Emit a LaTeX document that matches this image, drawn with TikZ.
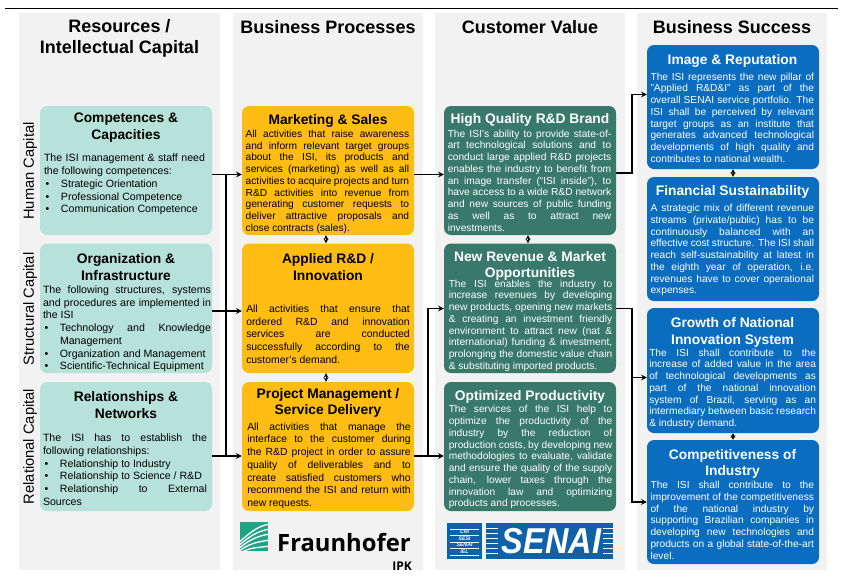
\documentclass[tikz,border=0pt]{standalone}
\usepackage{fontspec}
\setmainfont{Liberation Sans}
\newfontfamily\logofont{Open Sans}
\definecolor{colbg}{HTML}{F2F2F2}
\definecolor{tealc}{HTML}{B7E2D9}
\definecolor{yellowc}{HTML}{FFBC13}
\definecolor{greenc}{HTML}{39796A}
\definecolor{bluec}{HTML}{0B6DBF}
\definecolor{fhgreen}{HTML}{1FA585}
\definecolor{senaiblue}{HTML}{0F62A8}
\newcommand{\brk}{\linebreak}
\newcommand{\isiitem}{\par\noindent\hangindent=17pt\hangafter=1\hbox to 17pt{\hskip 1.5pt\textbullet\hfil}}
\tikzset{
  cardbox/.style={rounded corners=7pt,inner sep=0pt,minimum width=172pt},
  tealbox/.style={cardbox,fill=tealc},
  yellowbox/.style={cardbox,fill=yellowc},
  greenbox/.style={cardbox,fill=greenc},
  bluebox/.style={cardbox,fill=bluec},
  headtext/.style={align=center,inner sep=0pt,font=\fontsize{18}{21}\selectfont\bfseries},
  cardtitle/.style={align=center,inner sep=0pt,yshift=-1.5pt,font=\fontsize{13.8}{16.6}\selectfont\bfseries},
  sidetext/.style={rotate=90,inner sep=0pt,font=\fontsize{14.7}{17}\selectfont},
  bodytext/.style={anchor=north,inner sep=0pt,align=justify,text width=163.5pt,
    font=\fontsize{10.2}{11.75}\selectfont,execute at begin node=\noindent\strut},
  widetext/.style={bodytext,font=\fontsize{10.4}{12.75}\selectfont},
  tealtext/.style={bodytext,font=\fontsize{10.6}{12.75}\selectfont},
  conn/.style={->,line width=1.5pt},
  bus/.style={line width=1.5pt},
  dbl/.style={<->,line width=1pt},
}
\begin{document}
\begin{tikzpicture}[>=stealth,x=1pt,y=-1pt]
\useasboundingbox (0,0) rectangle (843,579);
\draw[line width=1.3pt] (5,8.5) -- (838,8.5);
% columns
\foreach \xa/\xb in {19/220,233/423,435/625,637/827}
  \fill[colbg] (\xa,13) rectangle (\xb,570);
\node[headtext] (hres) at (119.5,38) {Resources /\\Intellectual Capital};
\node[headtext] (hproc) at (328,27.5) {Business Processes};
\node[headtext] (hval) at (530,27.5) {Customer Value};
\node[headtext] (hsucc) at (732,27.5) {Business Success};
\node[sidetext] (shum) at (30,171) {Human Capital};
\node[sidetext] (sstr) at (30,309) {Structural Capital};
\node[sidetext] (srel) at (30,446.5) {Relational Capital};
% boxes
\node[tealbox,minimum height=129pt] (cmp) at (126,170.5) {};
\node[tealbox,minimum height=129.5pt] (org) at (126,308.25) {};
\node[tealbox,minimum height=129pt] (rel) at (126,446.5) {};
\node[yellowbox,minimum height=129pt] (mkt) at (328,170.5) {};
\node[yellowbox,minimum height=129.5pt] (rnd) at (328,308.25) {};
\node[yellowbox,minimum height=129pt] (pmg) at (328,446.5) {};
\node[greenbox,minimum height=129pt] (brd) at (530,170.5) {};
\node[greenbox,minimum height=129.5pt] (rev) at (530,308.25) {};
\node[greenbox,minimum height=129pt] (prd) at (530,446.5) {};
\node[bluebox,minimum height=124pt] (img) at (733,107) {};
\node[bluebox,minimum height=124pt] (fin) at (733,239) {};
\node[bluebox,minimum height=125pt] (gro) at (733,370.5) {};
\node[bluebox,minimum height=124pt] (com) at (733,502) {};
% resources
\node[cardtitle] (tcmp) at (126,126) {Competences \&\\Capacities};
\node[tealtext,text width=161pt] (bcmp) at (124.5,152.7) {The ISI management \& staff need\brk the following competences:
  \isiitem Strategic Orientation
  \isiitem Professional Competence
  \isiitem Communication Competence};
\node[cardtitle] (torg) at (126,265.5) {Organization \&\\Infrastructure};
\node[tealtext,text width=168pt] (borg) at (127,284.2) {The following structures, systems\brk and procedures are implemented in\brk the ISI
  \isiitem Technology and Knowledge\brk Management
  \isiitem Organization and Management
  \isiitem Scientific-Technical Equipment};
\node[cardtitle] (trel) at (126,403.5) {Relationships \&\\Networks};
\node[tealtext,text width=164pt] (brel) at (125,432.5) {The ISI has to establish the\brk following relationships:
  \isiitem Relationship to Industry
  \isiitem Relationship to Science / R\&D
  \isiitem Relationship to External\brk Sources};
% processes
\node[cardtitle] (tmkt) at (328,119) {Marketing \& Sales};
\node[bodytext] (bmkt) at (327.4,129) {All activities that raise awareness\brk and inform relevant target groups\brk about the ISI, its products and\brk services (marketing) as well as all\brk activities to acquire projects and turn\brk R\&D activities into revenue from\brk generating customer requests to\brk deliver attractive proposals and\brk close contracts (sales).};
\node[cardtitle] (trnd) at (328,265.5) {Applied R\&D /\\Innovation};
\node[widetext] (brnd) at (328,303.2) {All activities that ensure that\brk ordered R\&D and innovation\brk services are conducted\brk successfully according to the\brk customer's demand.};
\node[cardtitle] (tpmg) at (328,401.5) {Project Management /\\Service Delivery};
\node[widetext] (bpmg) at (329,420.9) {All activities that manage the\brk interface to the customer during\brk the R\&D project in order to assure\brk quality of deliverables and to\brk create satisfied customers who\brk recommend the ISI and return with\brk new requests.};
% value
\node[cardtitle,text=white] (tbrd) at (530,118.7) {High Quality R\&D Brand};
\node[bodytext,text=white] (bbrd) at (529.5,128.8) {The ISI's ability to provide state-of-\brk art technological solutions and to\brk conduct large applied R\&D projects\brk enables the industry to benefit from\brk an image transfer (“ISI inside”), to\brk have access to a wide R\&D network\brk and new sources of public funding\brk as well as to attract new\brk investments.};
\node[cardtitle,text=white] (trev) at (530,264.5) {New Revenue \& Market\\Opportunities};
\node[bodytext,text=white] (brev) at (530.5,278.8) {The ISI enables the industry to\brk increase revenues by developing\brk new products, opening new markets\brk \& creating an investment friendly\brk environment to attract new (nat \&\brk international) funding \& investment,\brk prolonging the domestic value chain\brk \& substituting imported products.};
\node[cardtitle,text=white] (tprd) at (530,395) {Optimized Productivity};
\node[bodytext,text=white] (bprd) at (530.5,404.5) {The services of the ISI help to\brk optimize the productivity of the\brk industry by the reduction of\brk production costs, by developing new\brk methodologies to evaluate, validate\brk and ensure the quality of the supply\brk chain, lower taxes through the\brk innovation law and optimizing\brk products and processes.};
% success
\node[cardtitle,text=white] (timg) at (732.5,59) {Image \& Reputation};
\node[bodytext,text=white] (bimg) at (732.3,71.8) {The ISI represents the new pillar of\brk "Applied R\&D\&I" as part of the\brk overall SENAI service portfolio. The\brk ISI shall be perceived by relevant\brk target groups as an institute that\brk generates advanced technological\brk developments of high quality and\brk contributes to national wealth.};
\node[cardtitle,text=white] (tfin) at (732.5,190.7) {Financial Sustainability};
\node[bodytext,text=white] (bfin) at (732.3,203.1) {A strategic mix of different revenue\brk streams (private/public) has to be\brk continuously balanced with an\brk effective cost structure. The ISI shall\brk reach self-sustainability at latest in\brk the eighth year of operation, i.e.\brk revenues have to cover operational\brk expenses.};
\node[cardtitle,text=white] (tgro) at (732.5,330.7) {Growth of National\\Innovation System};
\node[bodytext,text=white,text width=166.7pt] (bgro) at (732.6,347.8) {The ISI shall contribute to the\brk increase of added value in the area\brk of technological developments as\brk part of the national innovation\brk system of Brazil, serving as an\brk intermediary between basic research\brk \& industry demand.};
\node[cardtitle,text=white] (tcom) at (732.5,462.5) {Competitiveness of\\Industry};
\node[bodytext,text=white] (bcom) at (732.3,480.1) {The ISI shall contribute to the\brk improvement of the competitiveness\brk of the national industry by\brk supporting Brazilian companies in\brk developing new technologies and\brk products on a global state-of-the-art\brk level.};
% connectors
\coordinate (lvla) at (0,174.5);
\coordinate (lvlb) at (0,311);
\coordinate (lvlc) at (0,456);
\coordinate (lvld) at (0,308.5);
\coordinate (lvle) at (0,94.5);
\coordinate (lvlf) at (0,173);
\coordinate (lvlg) at (0,377.5);
\coordinate (busa) at (226,0);
\coordinate (busb) at (428,0);
\coordinate (busc) at (632,0);
\draw[conn] (cmp.east |- lvla) -- (mkt.west |- lvla);
\draw[conn] (org.east |- lvlb) -- (rnd.west |- lvlb);
\draw[conn] (rel.east |- lvlc) -- (pmg.west |- lvlc);
\draw[bus] (busa |- lvla) -- (busa |- lvlc);
\draw[conn] (mkt.east |- lvla) -- (brd.west |- lvla);
\draw[conn] (pmg.east |- lvlc) -- (prd.west |- lvlc);
\draw[conn] (busb |- lvlc) |- (rev.west |- lvld);
\draw[conn] (brd.east |- lvlf) -- (busc |- lvlf) |- (img.west |- lvle);
\draw[conn] (rev.east |- lvld) -- (busc |- lvld) |- (com.west);
\draw[conn] (busc |- lvlg) -- (gro.west |- lvlg);
\draw[dbl] ([xshift=-2pt]mkt.south) -- ([xshift=-2pt]rnd.north);
\draw[dbl] ([xshift=-2pt]rnd.south) -- ([xshift=-2pt]pmg.north);
\draw[dbl] ([xshift=-2pt]brd.south) -- ([xshift=-2pt]rev.north);
\draw[dbl] (img.south) -- (fin.north);
\draw[dbl] (gro.south) -- (com.north);
% fraunhofer logo
\begin{scope}
  \clip (240,522) rectangle (268,551);
  \fill[fhgreen] (240,522) rectangle (268,551);
  \foreach \ya/\yb in {543/524,546/529,549/534,552/540,555/546}
    \draw[white,line width=1.3pt] (238,\ya) .. controls (248,\ya-8) and (256,\yb+2) .. (270,\yb);
\end{scope}
\node[anchor=base west,inner sep=0pt,font=\logofont\fontsize{23.8}{26}\selectfont\bfseries] (fhg) at (277,551) {Fraunhofer};
\node[anchor=base east,inner sep=0pt,font=\logofont\fontsize{12}{13}\selectfont\bfseries] (ipk) at (412,570) {IPK};
% senai logo
\fill[senaiblue] (447,523) rectangle (482,559);
\fill[senaiblue] (486,523) rectangle (613,559);
\foreach \y in {528,533,538,543,548,553}{
  \draw[white,line width=0.5pt] (486,\y) -- (498,\y);
  \draw[white,line width=0.5pt] (603,\y) -- (613,\y);
}
\foreach \y in {529,535.5,542,548.5,555}
  \draw[white,line width=0.5pt] (450,\y) -- (479,\y);
\node[inner sep=0pt,text=white,font=\fontsize{5.2}{6.5}\selectfont\bfseries\itshape,align=center] (cni) at (464.5,541.5) {CNI\\SESI\\SENAI\\IEL};
\node[inner sep=0pt,text=white,font=\fontsize{36}{36}\selectfont\bfseries\itshape] (sen) at (551.5,541) {\scalebox{0.9}[1]{SENAI}};
\end{tikzpicture}
\end{document}
